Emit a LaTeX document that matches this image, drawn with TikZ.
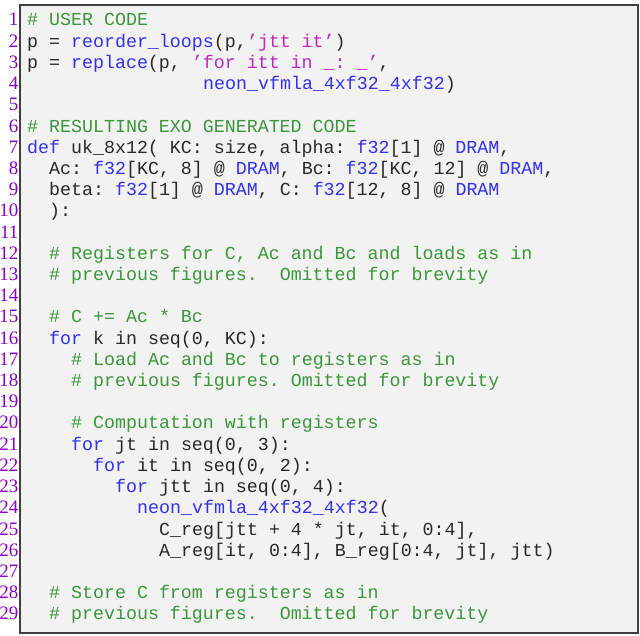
\documentclass[tikz,border=0pt]{standalone}
\usepackage{fontspec}
\setmonofont{Liberation Mono}
\newfontfamily\numfont{Liberation Serif}
\definecolor{cmt}{RGB}{60,150,60}
\definecolor{kwc}{RGB}{50,50,235}
\definecolor{strc}{RGB}{190,40,190}
\definecolor{lnc}{RGB}{140,0,200}
\definecolor{bgc}{RGB}{242,242,242}
\definecolor{txc}{RGB}{40,40,40}
\newcommand{\kw}[1]{\textcolor{kwc}{#1}}
\newcommand{\cm}[1]{\textcolor{cmt}{#1}}
\newcommand{\st}[1]{\textcolor{strc}{#1}}
\begin{document}
\begin{tikzpicture}[x=1pt,y=-1pt,
  code/.style={anchor=base west,inner sep=0pt,font=\ttfamily\fontsize{18.3}{20}\selectfont,text=txc},
  lnum/.style={anchor=base east,inner sep=0pt,font=\numfont\fontsize{19}{21}\selectfont,text=lnc}]
\useasboundingbox (0,0) rectangle (640,636);
\draw[fill=bgc,draw=black!75,line width=1.2pt] (20,5) rectangle (638,633);
\foreach \i in {1,...,29}{\node[lnum] (n\i) at (18.5,{26+(\i-1)*21.21}) {\i};}
\newcommand{\codeline}[3]{\node[code] (l#1) at ({27+11*#2},{26+(#1-1)*21.21}) {#3};}
\codeline{1}{0}{\cm{\# USER CODE}}
\codeline{2}{0}{p = \kw{reorder\_loops}(p,\st{’jtt it’})}
\codeline{3}{0}{p = \kw{replace}(p, \st{’for itt in \_: \_’},}
\codeline{4}{16}{\kw{neon\_vfmla\_4xf32\_4xf32})}
\codeline{6}{0}{\cm{\# RESULTING EXO GENERATED CODE}}
\codeline{7}{0}{\kw{def} uk\_8x12( KC: size, alpha: \kw{f32}[1] @ \kw{DRAM},}
\codeline{8}{2}{Ac: \kw{f32}[KC, 8] @ \kw{DRAM}, Bc: \kw{f32}[KC, 12] @ \kw{DRAM},}
\codeline{9}{2}{beta: \kw{f32}[1] @ \kw{DRAM}, C: \kw{f32}[12, 8] @ \kw{DRAM}}
\codeline{10}{2}{):}
\codeline{12}{2}{\cm{\# Registers for C, Ac and Bc and loads as in}}
\codeline{13}{2}{\cm{\# previous figures.~~Omitted for brevity}}
\codeline{15}{2}{\cm{\# C += Ac * Bc}}
\codeline{16}{2}{\kw{for} k in seq(0, KC):}
\codeline{17}{4}{\cm{\# Load Ac and Bc to registers as in}}
\codeline{18}{4}{\cm{\# previous figures. Omitted for brevity}}
\codeline{20}{4}{\cm{\# Computation with registers}}
\codeline{21}{4}{\kw{for} jt in seq(0, 3):}
\codeline{22}{6}{\kw{for} it in seq(0, 2):}
\codeline{23}{8}{\kw{for} jtt in seq(0, 4):}
\codeline{24}{10}{\kw{neon\_vfmla\_4xf32\_4xf32}(}
\codeline{25}{12}{C\_reg[jtt + 4 * jt, it, 0:4],}
\codeline{26}{12}{A\_reg[it, 0:4], B\_reg[0:4, jt], jtt)}
\codeline{28}{2}{\cm{\# Store C from registers as in}}
\codeline{29}{2}{\cm{\# previous figures.~~Omitted for brevity}}
\end{tikzpicture}
\end{document}
